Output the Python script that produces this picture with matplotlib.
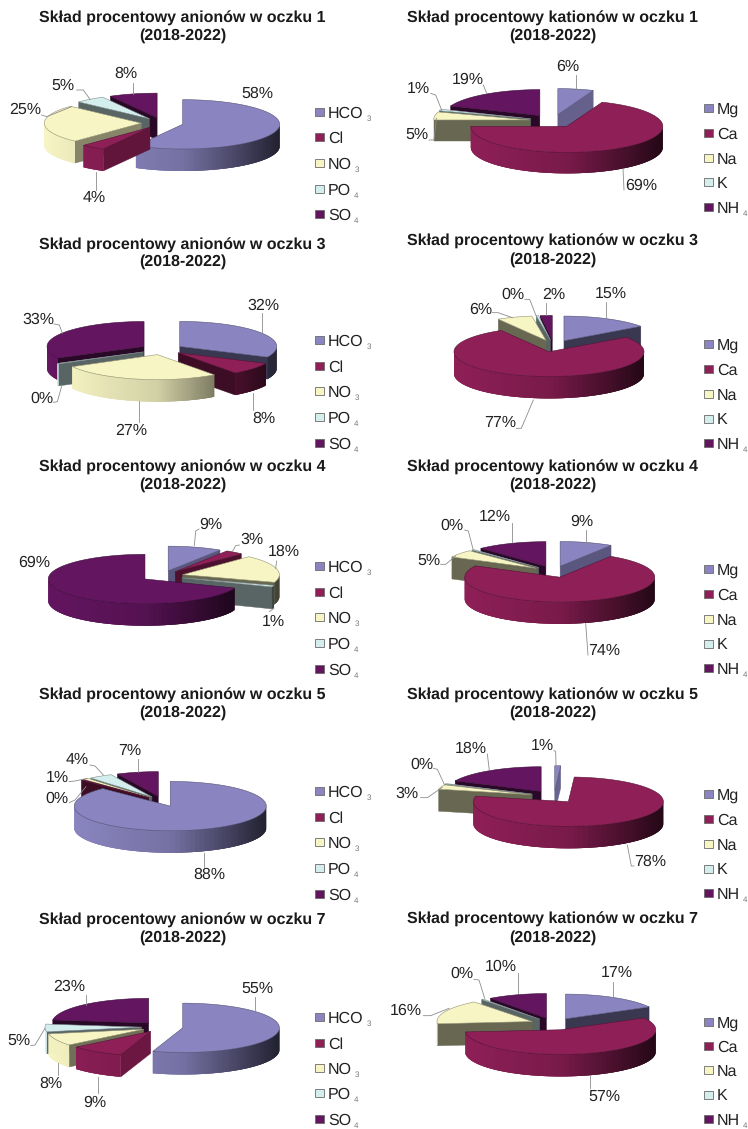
"""Exploded 3D-look pie charts of ion composition for five ponds."""

import matplotlib
matplotlib.use("Agg")
import matplotlib.pyplot as plt
import numpy as np

plt.rcParams["font.family"] = ["Liberation Sans", "DejaVu Sans"]
plt.rcParams["text.hinting"] = "no_hinting"
plt.rcParams["text.hinting_factor"] = 1

WIDTH, HEIGHT = 748, 1129
ZOOM = 3.0  # layout numbers below were read at 3x
N_RIM = 60

ANION_NAMES = [("HCO", "3"), ("Cl", ""), ("NO", "3"), ("PO", "4"), ("SO", "4")]
CATION_NAMES = [("Mg", ""), ("Ca", ""), ("Na", ""), ("K", ""), ("NH", "4")]
COLORS = ["#8A85C0", "#8E1F57", "#F7F5C3", "#D4EEEE", "#63155F"]

# values in percent; slices labelled 0% are thin, not empty
ANIONS_1 = [58, 4, 25, 5, 8]
CATIONS_1 = [6, 69, 5, 1, 19]
ANIONS_3 = [32, 8, 27, 0.4, 32.6]
CATIONS_3 = [15, 76.6, 6, 0.4, 2]
ANIONS_4 = [9, 3, 18, 1, 69]
CATIONS_4 = [9, 73.6, 5, 0.4, 12]
ANIONS_5 = [87.6, 0.4, 1, 4, 7]
CATIONS_5 = [1, 77.6, 3, 0.4, 18]
ANIONS_7 = [55, 9, 8, 5, 23]
CATIONS_7 = [17, 56.6, 16, 0.4, 10]

PONDS = [1, 3, 4, 5, 7]
ROW_Y = [0, 230, 455, 680, 900]
COL_X = [0, 374]
VALUES = [
    [ANIONS_1, CATIONS_1],
    [ANIONS_3, CATIONS_3],
    [ANIONS_4, CATIONS_4],
    [ANIONS_5, CATIONS_5],
    [ANIONS_7, CATIONS_7],
]

# cx, cy, rx, ry, depth, explode (3x units inside the panel)
PIE_GEOM = [
    [(487, 369, 291, 74, 66, 63), (538, 363, 288, 78, 63, 72)],
    [(486, 358, 291, 75, 66, 63), (539, 348, 285, 74, 66, 68)],
    [(487, 363, 290, 74, 66, 63), (540, 350, 285, 74, 66, 66)],
    [(488, 364, 288, 74, 66, 60), (540, 350, 285, 74, 66, 72)],
    [(487, 381, 290, 74, 66, 62), (539, 372, 286, 74, 66, 70)],
]
TITLE_Y = [
    [(55, 108), (55, 108)],
    [(45, 95), (35, 88)],
    [(38, 90), (38, 90)],
    [(45, 98), (45, 98)],
    [(60, 112), (58, 112)],
]
LEGEND_Y = [[335, 325], [330, 342], [333, 342], [333, 342], [352, 365]]
LEGEND_STEP = [[77, 74], [77, 74.5], [77, 74.5], [77, 74.5], [76, 73]]

LABEL_POS = [
    [
        [(772, 280), (282, 593), (75, 330), (190, 258), (378, 222)],
        [(582, 200), (802, 558), (128, 405), (133, 265), (282, 238)],
    ],
    [
        [(790, 227), (793, 565), (393, 603), (125, 505), (115, 270)],
        [(710, 192), (378, 577), (320, 238), (417, 193), (540, 193)],
    ],
    [
        [(633, 210), (757, 255), (852, 290), (820, 500), (103, 322)],
        [(623, 200), (692, 587), (165, 318), (233, 212), (362, 185)],
    ],
    [
        [(627, 585), (172, 355), (172, 293), (233, 240), (390, 213)],
        [(505, 197), (828, 545), (100, 340), (143, 253), (290, 205)],
    ],
    [
        [(772, 265), (285, 607), (152, 550), (57, 423), (208, 260)],
        [(727, 218), (692, 590), (95, 333), (265, 222), (380, 200)],
    ],
]
LEADERS = [
    [
        [[(289, 515), (289, 570)], [(125, 345), (140, 350), (215, 320)],
         [(230, 270), (250, 270), (270, 298)], [(400, 250), (400, 282)]],
        [[(605, 225), (605, 267)], [(750, 570), (747, 505)],
         [(165, 420), (180, 420), (187, 355)], [(170, 280), (185, 285), (203, 330)],
         [(328, 255), (338, 280)]],
    ],
    [
        [[(787, 250), (787, 308)], [(760, 540), (760, 488)], [(418, 575), (418, 512)],
         [(160, 517), (172, 515), (186, 465)], [(162, 282), (178, 285), (187, 310)]],
        [[(697, 215), (697, 265)], [(427, 595), (442, 595), (478, 510)],
         [(355, 248), (372, 248), (415, 263)], [(452, 208), (467, 208), (488, 262)],
         [(515, 218), (515, 255)]],
    ],
    [
        [[(597, 222), (587, 228), (583, 272)], [(718, 270), (707, 272), (697, 290)],
         [(830, 318), (827, 340)], [(808, 470), (822, 460)]],
        [[(637, 225), (637, 268)], [(642, 600), (635, 505)],
         [(200, 328), (215, 328), (245, 303)], [(272, 225), (283, 228), (297, 282)],
         [(413, 205), (413, 262)]],
    ],
    [
        [[(613, 560), (613, 520)], [(208, 368), (225, 360), (258, 320)],
         [(207, 305), (225, 303), (262, 295)], [(270, 255), (285, 258), (310, 285)],
         [(415, 238), (415, 277)]],
        [[(540, 212), (545, 215), (546, 258)], [(780, 558), (772, 558), (760, 495)],
         [(140, 353), (160, 353), (205, 322)], [(178, 265), (190, 268), (212, 315)],
         [(340, 222), (346, 272)]],
    ],
    [
        [[(765, 290), (765, 335)], [(294, 580), (294, 530)], [(175, 525), (175, 490)],
         [(92, 437), (105, 435), (135, 385)], [(257, 285), (257, 315)]],
        [[(717, 245), (717, 290)], [(647, 565), (647, 525)],
         [(148, 347), (170, 347), (225, 325)], [(300, 238), (315, 240), (332, 295)],
         [(432, 218), (432, 280)]],
    ],
]


def shade(color, factor):
    rgb = np.array(matplotlib.colors.to_rgb(color))
    return tuple(rgb * factor)


def rim_factor(nx):
    return np.interp(nx, [-1, 0, 0.6, 1], [1.0, 0.85, 0.5, 0.25])


def face_factor(nx):
    return np.interp(nx, [-1, 0.6, 0.95], [0.42, 0.42, 0.75])


def draw_slice(ax, center, radii, depth, start, stop, color):
    """Draws one exploded slice; angles are degrees clockwise from the back."""
    x0, y0 = center
    rx, ry = radii
    t = np.deg2rad(np.linspace(start, stop, max(int(stop - start) + 2, 3)))
    edge_x = x0 + rx * np.sin(t)
    edge_y = y0 - ry * np.cos(t)

    # flat sides of the slice
    for angle, theta in ((start, start - 90), (stop, stop + 90)):
        if np.cos(np.deg2rad(theta)) < 0:
            a = np.deg2rad(angle)
            px, py = x0 + rx * np.sin(a), y0 - ry * np.cos(a)
            c = shade(color, face_factor(np.sin(np.deg2rad(theta))))
            ax.fill([x0, px, px, x0], [y0, py, py + depth, y0 + depth],
                    color=c, lw=0.3, zorder=ax.next_z())

    # outer rim, only the part turned to the viewer; strips overlap to hide seams
    lo, hi = max(start, 90), min(stop, 270)
    if hi > lo:
        edges = np.deg2rad(np.linspace(lo, hi, N_RIM + 1))
        for k, (a, b) in enumerate(zip(edges[:-1], edges[1:])):
            far = edges[min(k + 3, N_RIM)]
            arc = np.linspace(a, far, 6)
            xs = x0 + rx * np.sin(np.r_[arc, arc[::-1]])
            ys = y0 - ry * np.cos(np.r_[arc, arc[::-1]])
            ys = ys + np.r_[np.zeros(6), np.full(6, depth)]
            c = shade(color, rim_factor(np.sin((a + b) / 2)))
            ax.fill(xs, ys, facecolor=c, edgecolor="none", lw=0, zorder=ax.next_z())

    ax.fill(np.r_[x0, edge_x], np.r_[y0, edge_y], facecolor=color,
            edgecolor=shade(color, 0.6), lw=0.4, zorder=ax.next_z())


def draw_pie(ax, origin, geom, values):
    cx, cy, rx, ry, depth, explode = geom
    ox, oy = origin
    cuts = np.r_[0, np.cumsum(values)] * 360 / np.sum(values)
    order = sorted(range(len(values)),
                   key=lambda i: -np.cos(np.deg2rad((cuts[i] + cuts[i + 1]) / 2)))
    for i in order:
        mid = np.deg2rad((cuts[i] + cuts[i + 1]) / 2)
        center = (ox + (cx + explode * np.sin(mid)) / ZOOM,
                  oy + (cy - explode * ry / rx * np.cos(mid)) / ZOOM)
        draw_slice(ax, center, (rx / ZOOM, ry / ZOOM), depth / ZOOM,
                   cuts[i], cuts[i + 1], COLORS[i])


def draw_legend(ax, origin, x_box, y_first, step, names):
    ox, oy = origin
    for i, (name, sub) in enumerate(names):
        y = oy + (y_first + i * step) / ZOOM
        ax.fill(np.array([0, 9, 9, 0]) + ox + x_box / ZOOM,
                np.array([-4, -4, 4, 4]) + y,
                facecolor=COLORS[i], edgecolor="#6a6a6a", lw=0.6, zorder=5000)
        t = ax.text(ox + x_box / ZOOM + 13, y, name, fontsize=11.4, color="#222222",
                    ha="left", va="center_baseline")
        if sub:
            ax.annotate(sub, xy=(1, 0), xycoords=t, xytext=(2, -1),
                        textcoords="offset points", fontsize=5.5, color="#777777",
                        ha="left", va="bottom")


fig = plt.figure(figsize=(WIDTH / 100, HEIGHT / 100), dpi=100)
ax = fig.add_axes([0, 0, 1, 1])
ax.set_xlim(0, WIDTH)
ax.set_ylim(HEIGHT, 0)
ax.axis("off")

z_counter = [10]


def next_z():
    z_counter[0] += 1
    return z_counter[0]


ax.next_z = next_z

for r, pond in enumerate(PONDS):
    for c, kind in enumerate(["anionów", "kationów"]):
        origin = (COL_X[c], ROW_Y[r])
        draw_pie(ax, origin, PIE_GEOM[r][c], VALUES[r][c])

        title_x = origin[0] + (547 if c == 0 else 535) / ZOOM
        y1, y2 = TITLE_Y[r][c]
        ax.text(title_x, origin[1] + y1 / ZOOM, f"Skład procentowy {kind} w oczku {pond}",
                fontsize=11.4, fontweight="bold", color="#1a1a1a",
                ha="center", va="center", zorder=6000)
        ax.text(title_x, origin[1] + y2 / ZOOM, "(2018-2022)",
                fontsize=11.4, fontweight="bold", color="#1a1a1a",
                ha="center", va="center", zorder=6000)

        for value, (lx, ly) in zip(VALUES[r][c], LABEL_POS[r][c]):
            ax.text(origin[0] + lx / ZOOM, origin[1] + ly / ZOOM, f"{round(value)}%",
                    fontsize=11.4, color="#222222", ha="center", va="center", zorder=6000)
        for line in LEADERS[r][c]:
            xs, ys = zip(*line)
            ax.plot(origin[0] + np.array(xs) / ZOOM, origin[1] + np.array(ys) / ZOOM,
                    color="#8c8c8c", lw=0.6, zorder=5500)

        names = ANION_NAMES if c == 0 else CATION_NAMES
        draw_legend(ax, origin, 945 if c == 0 else 990,
                    LEGEND_Y[r][c], LEGEND_STEP[r][c], names)

fig.savefig("out.png", dpi=100)
